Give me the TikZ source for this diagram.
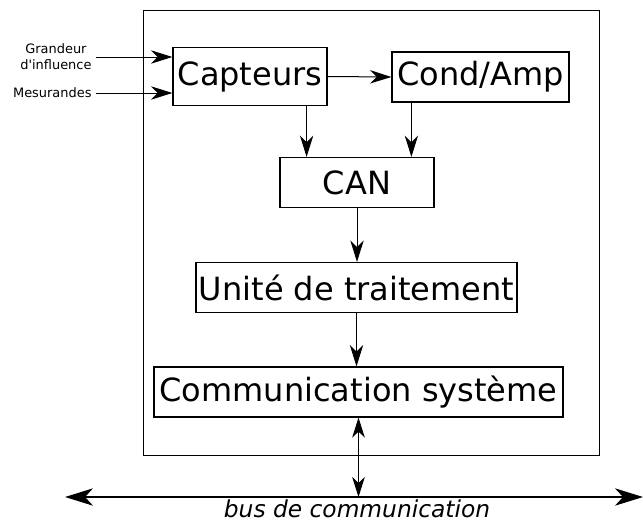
\documentclass[tikz,border=0pt]{standalone}
\usepackage{fontspec}
\setmainfont{DejaVu Sans}
\usetikzlibrary{arrows.meta}

\begin{document}
\begin{tikzpicture}
  [x=0.75pt,y=-0.75pt,
   bloc/.style={draw,line width=0.9pt,inner sep=2pt,minimum height=37.5pt,font=\fontsize{24}{28}\selectfont},
   fleche/.style={line width=0.75pt,-{Stealth[length=16pt,width=10pt,inset=5pt]}},
   petit/.style={font=\fontsize{9.7}{12}\selectfont,align=center,inner sep=3pt}]
  \useasboundingbox (0,0) rectangle (643,522);
  \draw[line width=0.75pt] (143,10) rectangle (599,455);
  \node[bloc,minimum width=115.5pt,minimum height=44pt] (capt) at (250,76.5) {Capteurs};
  \node[bloc,minimum width=132.75pt] (cond) at (480.5,77) {Cond/Amp};
  \node[bloc,minimum width=115.5pt] (can) at (357,182.5) {CAN};
  \node[bloc,minimum width=240.75pt] (unite) at (356.5,287.5) {Unité de traitement};
  \node[bloc,minimum width=306.75pt] (comm) at (358.5,392) {Communication système};
  \node[anchor=base,inner sep=0.5pt,font=\fontsize{17.5}{20}\selectfont\itshape] (bus) at (357,517) {bus de communication};
  \coordinate (grand) at (96,57);
  \coordinate (mes) at (96,93);
  \coordinate (busg) at (65,497);
  \coordinate (busd) at (643,497);
  \coordinate (c1) at ([xshift=-15.75pt]capt.south east);
  \coordinate (c2) at ([xshift=15pt]cond.south west);
  \draw[fleche] (grand) node[left,petit] (gl) {Grandeur\\d\textquotesingle influence} -- (grand -| capt.west);
  \draw[fleche] (mes) node[left,petit] (ml) {Mesurandes} -- (mes -| capt.west);
  \draw[fleche] (capt.east) -- (cond.west);
  \draw[fleche] (c1) -- (c1 |- can.north);
  \draw[fleche] (c2) -- (c2 |- can.north);
  \draw[fleche] (can.south) -- (can.south |- unite.north);
  \draw[fleche] (unite.south) -- (unite.south |- comm.north);
  \draw[line width=0.75pt,{Stealth[length=15pt,width=9.5pt,inset=4.5pt]}-{Stealth[length=15pt,width=9.5pt,inset=4.5pt]}]
    (comm.south) -- (comm.south |- busg);
  \draw[line width=1pt,{Stealth[length=21pt,width=13pt,inset=6pt]}-{Stealth[length=21pt,width=13pt,inset=6pt]}]
    (busg) -- (busd);
\end{tikzpicture}
\end{document}
